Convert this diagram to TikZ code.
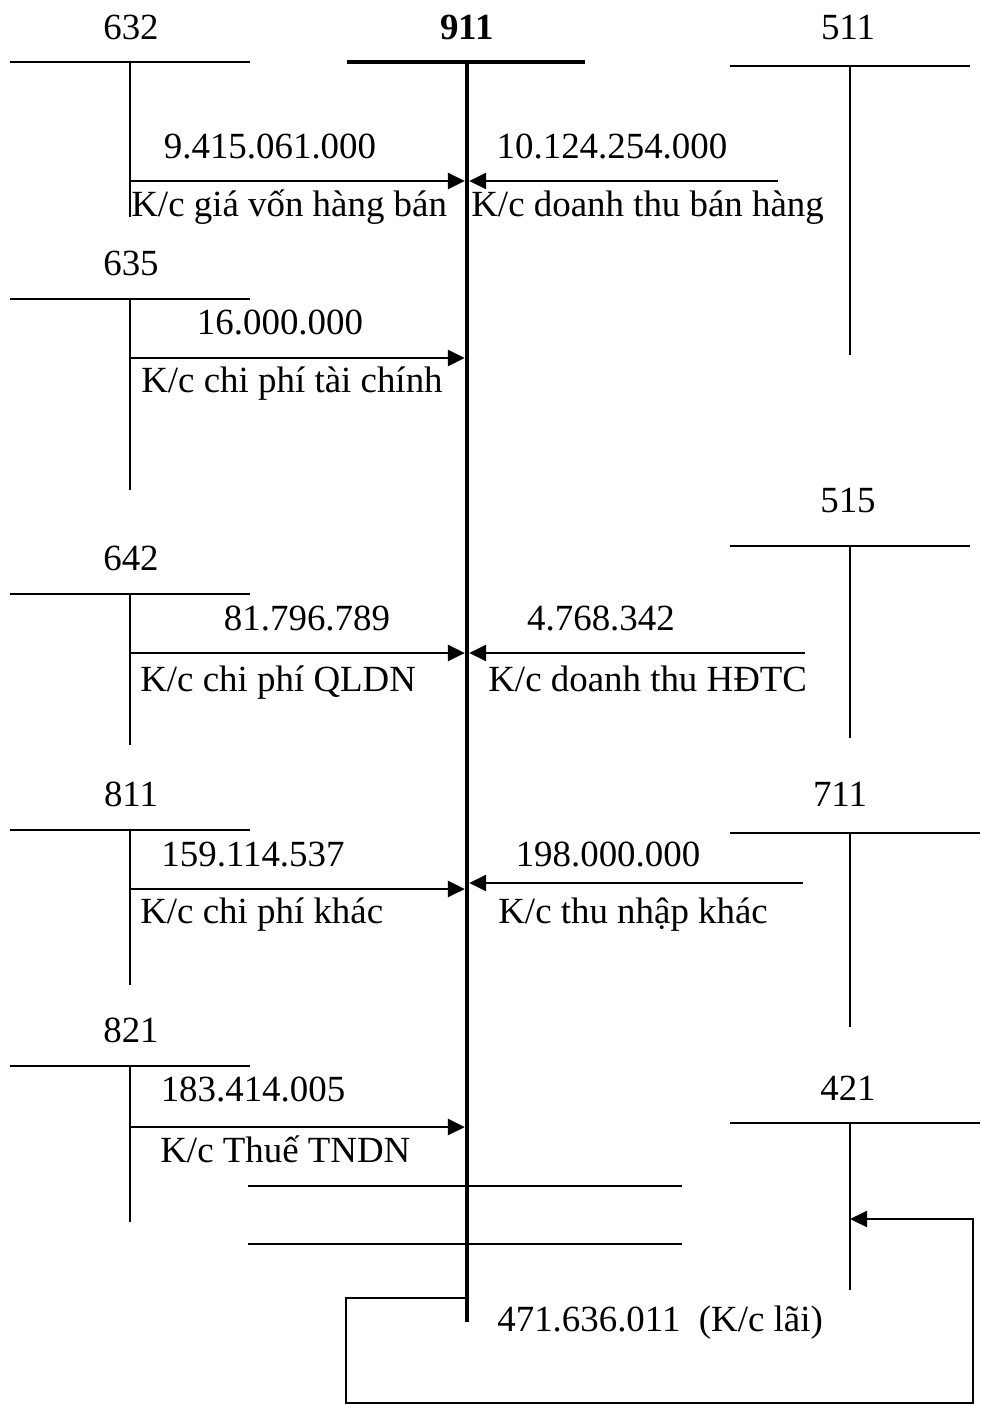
\documentclass[tikz,border=0pt]{standalone}
\usepackage{fontspec}
\setmainfont{Liberation Serif}
\usetikzlibrary{arrows.meta,positioning,calc}
\newcommand{\acctfont}{\fontsize{21}{25}\selectfont}
\tikzset{
  acct/.style={anchor=base,inner sep=0pt,font=\acctfont},
  mainacct/.style={anchor=base,inner sep=0pt,font=\acctfont\bfseries},
  amount/.style={anchor=base,inner sep=0pt,font=\acctfont},
  memo/.style={anchor=base west,inner sep=0pt,font=\acctfont},
  tline/.style={line width=1.1pt},
  mainline/.style={line width=2.8pt},
  arrow/.style={-{Triangle[length=0.34cm,width=0.32cm]},line width=1.6pt,
    shorten >=1.2pt}
}

\begin{document}
\begin{tikzpicture}[x=0.02cm,y=-0.02cm]
  \useasboundingbox (0,0) rectangle (980,1405);
  % main account
  \node[mainacct] (n911) at (467,40) {911};
  \coordinate (m911) at (467,62);
  \coordinate (e911) at (467,1322);
  \coordinate (q911) at (467,1298);
  \draw[mainline] (347,62) -- (585,62);
  \draw[mainline] (m911) -- (e911);

  % left accounts
  \node[acct] (n632) at (131,40) {632};
  \coordinate (s632) at (130,62);
  \coordinate (e632) at (130,217);
  \coordinate (a632) at (130,181);
  \draw[tline] (10,62) -- (250,62);
  \draw[tline] (s632) -- (e632);

  \node[acct] (n635) at (131,276) {635};
  \coordinate (s635) at (130,299);
  \coordinate (e635) at (130,490);
  \coordinate (a635) at (130,358);
  \draw[tline] (10,299) -- (250,299);
  \draw[tline] (s635) -- (e635);

  \node[acct] (n642) at (131,570) {642};
  \coordinate (s642) at (130,594);
  \coordinate (e642) at (130,745);
  \coordinate (a642) at (130,653);
  \draw[tline] (10,594) -- (250,594);
  \draw[tline] (s642) -- (e642);

  \node[acct] (n811) at (131,806) {811};
  \coordinate (s811) at (130,830);
  \coordinate (e811) at (130,985);
  \coordinate (a811) at (130,889);
  \draw[tline] (10,830) -- (250,830);
  \draw[tline] (s811) -- (e811);

  \node[acct] (n821) at (131,1042) {821};
  \coordinate (s821) at (130,1066);
  \coordinate (e821) at (130,1222);
  \coordinate (a821) at (130,1127);
  \draw[tline] (10,1066) -- (250,1066);
  \draw[tline] (s821) -- (e821);

  % right accounts
  \node[acct] (n511) at (848,40) {511};
  \coordinate (s511) at (850,66);
  \coordinate (e511) at (850,355);
  \coordinate (a511) at (778,181);
  \draw[tline] (730,66) -- (970,66);
  \draw[tline] (s511) -- (e511);

  \node[acct] (n515) at (848,512) {515};
  \coordinate (s515) at (850,546);
  \coordinate (e515) at (850,738);
  \coordinate (a515) at (805,653);
  \draw[tline] (730,546) -- (970,546);
  \draw[tline] (s515) -- (e515);

  \node[acct] (n711) at (840,806) {711};
  \coordinate (s711) at (850,833);
  \coordinate (e711) at (850,1027);
  \coordinate (a711) at (803,883);
  \draw[tline] (730,833) -- (980,833);
  \draw[tline] (s711) -- (e711);

  \node[acct] (n421) at (848,1100) {421};
  \coordinate (s421) at (850,1123);
  \coordinate (e421) at (850,1290);
  \coordinate (r421) at (850,1219);
  \draw[tline] (730,1123) -- (980,1123);
  \draw[tline] (s421) -- (e421);

  % transfers into 911
  \draw[arrow] (a632) -- (a632 -| m911);
  \draw[arrow] (a511) -- (a511 -| m911);
  \draw[arrow] (a635) -- (a635 -| m911);
  \draw[arrow] (a642) -- (a642 -| m911);
  \draw[arrow] (a515) -- (a515 -| m911);
  \draw[arrow] (a811) -- (a811 -| m911);
  \draw[arrow] (a711) -- (a711 -| m911);
  \draw[arrow] (a821) -- (a821 -| m911);

  \node[amount] (v632) at (270,159) {9.415.061.000};
  \node[memo] (k632) at (131,217) {K/c giá vốn hàng bán};
  \node[amount] (v511) at (612,159) {10.124.254.000};
  \node[memo] (k511) at (471,217) {K/c doanh thu bán hàng};
  \node[amount] (v635) at (280,335) {16.000.000};
  \node[memo] (k635) at (141,393) {K/c chi phí tài chính};
  \node[amount] (v642) at (307,630) {81.796.789};
  \node[memo] (k642) at (140,691) {K/c chi phí QLDN};
  \node[amount] (v515) at (601,630) {4.768.342};
  \node[memo] (k515) at (488,691) {K/c doanh thu HĐTC};
  \node[amount] (v811) at (253,866) {159.114.537};
  \node[memo] (k811) at (140,923) {K/c chi phí khác};
  \node[amount] (v711) at (608,866) {198.000.000};
  \node[memo] (k711) at (498,923) {K/c thu nhập khác};
  \node[amount] (v821) at (253,1101) {183.414.005};
  \node[memo] (k821) at (160,1162) {K/c Thuế TNDN};

  % closing of 911
  \draw[tline] (248,1186) -- (682,1186);
  \draw[tline] (248,1244) -- (682,1244);
  \coordinate (q1) at (346,1403);
  \coordinate (q2) at (973,1219);
  \draw[arrow,line width=1.3pt,shorten >=0pt] (q911) -| (q1) -| (q2) -- (r421);
  \node[memo] (kl) at (497,1331) {471.636.011~~(K/c lãi)};
\end{tikzpicture}
\end{document}
